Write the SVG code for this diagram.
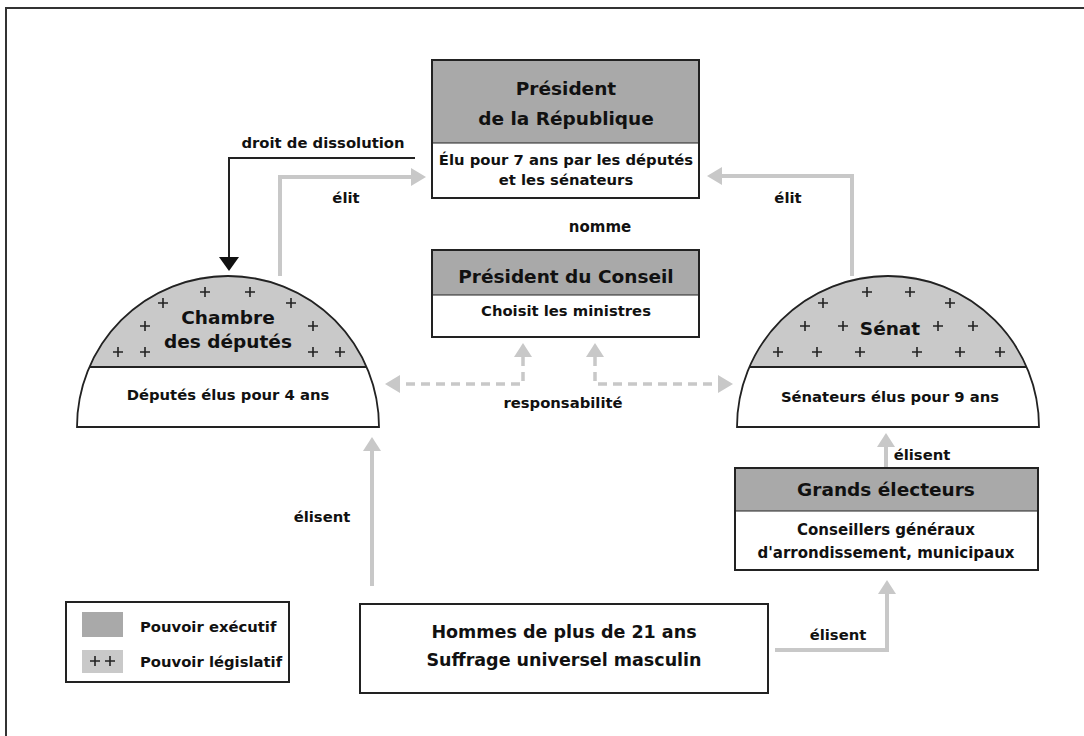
<svg xmlns="http://www.w3.org/2000/svg" width="1084" height="736" viewBox="0 0 1084 736">
<defs>
<style>
text{font-family:"DejaVu Sans","Liberation Sans",Arial,sans-serif;font-weight:bold;fill:#111;text-anchor:middle}
.t19{font-size:18.5px}.t18{font-size:18.5px}.t17{font-size:17.5px}.t15{font-size:15px}.t14{font-size:14.8px}
.box{fill:#fff;stroke:#222;stroke-width:2}
.hdr{fill:#a9a9a9}
.dome{fill:#c9c9c9}
.edge{fill:none;stroke:#222;stroke-width:1.8}
.gl{fill:none;stroke:#c8c8c8;stroke-width:4}
.gd{fill:none;stroke:#c8c8c8;stroke-width:3.5;stroke-dasharray:9 6}
.ga{fill:#c8c8c8}
.bl{fill:none;stroke:#222;stroke-width:2}
.plus{stroke:#222;stroke-width:1.6;fill:none}
</style>
<path id="p" class="plus" d="M-5,0H5M0,-5V5"/>
</defs>
<rect x="6" y="8" width="1100" height="760" fill="#fff" stroke="#333" stroke-width="2"/>

<g id="connectors">
<polyline class="bl" points="415,158 229,158 229,258"/>
<polygon fill="#111" points="219,257 239,257 229,271"/>
<polyline class="gl" points="280,276 280,177 413,177"/>
<polygon class="ga" points="411,168 426,177 411,186"/>
<polyline class="gl" points="852,276 852,176 720,176"/>
<polygon class="ga" points="722,167 707,176 722,185"/>
<polyline class="gd" points="523,357 523,384 399,384"/>
<polygon class="ga" points="514,357 523,343 532,357"/>
<polygon class="ga" points="400,375 385,384 400,393"/>
<polyline class="gd" points="595,357 595,384 719,384"/>
<polygon class="ga" points="586,357 595,343 604,357"/>
<polygon class="ga" points="718,375 733,384 718,393"/>
<polyline class="gl" points="372,586 372,450"/>
<polygon class="ga" points="363,451 372,437 381,451"/>
<polyline class="gl" points="886,468 886,446"/>
<polygon class="ga" points="877,447 886,433 895,447"/>
<polyline class="gl" points="775,650 887,650 887,593"/>
<polygon class="ga" points="878,594 887,580 896,594"/>
<text class="t14" x="323" y="148">droit de dissolution</text>
<text class="t14" x="346" y="203">élit</text>
<text class="t14" x="788" y="203">élit</text>
<text class="t15" x="600" y="232">nomme</text>
<text class="t14" x="563" y="408">responsabilité</text>
<text class="t14" x="322" y="522">élisent</text>
<text class="t14" x="922" y="460">élisent</text>
<text class="t14" x="838" y="640">élisent</text>
</g>

<g id="president">
<rect class="box" x="432" y="60" width="267" height="138"/>
<rect class="hdr" x="433" y="61" width="265" height="82"/>
<line x1="432" y1="143" x2="699" y2="143" stroke="#222" stroke-width="1"/>
<text class="t19" x="566" y="95">Président</text>
<text class="t19" x="566" y="125">de la République</text>
<text class="t14" x="566" y="165">Élu pour 7 ans par les députés</text>
<text class="t14" x="566" y="185">et les sénateurs</text>
</g>

<g id="conseil">
<rect class="box" x="432" y="250" width="267" height="87"/>
<rect class="hdr" x="433" y="251" width="265" height="44"/>
<line x1="432" y1="295" x2="699" y2="295" stroke="#222" stroke-width="1"/>
<text class="t18" x="566" y="283">Président du Conseil</text>
<text class="t14" x="566" y="316">Choisit les ministres</text>
</g>

<g id="chambre">
<path d="M77,427 A151,151 0 0 1 379,427 Z" fill="#fff"/>
<path class="dome" d="M89,367 A151,151 0 0 1 367,367 Z"/>
<path class="edge" d="M77,427 A151,151 0 0 1 379,427 Z"/>
<line x1="89" y1="367" x2="367" y2="367" stroke="#222" stroke-width="1.8"/>
<use href="#p" x="205" y="292"/><use href="#p" x="250" y="292"/>
<use href="#p" x="163" y="303"/><use href="#p" x="291" y="303"/>
<use href="#p" x="145" y="326"/><use href="#p" x="313" y="326"/>
<use href="#p" x="118" y="352"/><use href="#p" x="145" y="352"/>
<use href="#p" x="313" y="352"/><use href="#p" x="340" y="352"/>
<text class="t19" x="228" y="324">Chambre</text>
<text class="t19" x="228" y="348">des députés</text>
<text class="t14" x="228" y="400">Députés élus pour 4 ans</text>
</g>

<g id="senat">
<path d="M737,427 A151,151 0 0 1 1039,427 Z" fill="#fff"/>
<path class="dome" d="M749,367 A151,151 0 0 1 1027,367 Z"/>
<path class="edge" d="M737,427 A151,151 0 0 1 1039,427 Z"/>
<line x1="749" y1="367" x2="1027" y2="367" stroke="#222" stroke-width="1.8"/>
<use href="#p" x="867" y="292"/><use href="#p" x="910" y="292"/>
<use href="#p" x="823" y="303"/><use href="#p" x="950" y="303"/>
<use href="#p" x="805" y="326"/><use href="#p" x="843" y="326"/>
<use href="#p" x="938" y="326"/><use href="#p" x="973" y="326"/>
<use href="#p" x="778" y="352"/><use href="#p" x="817" y="352"/>
<use href="#p" x="860" y="352"/><use href="#p" x="917" y="352"/>
<use href="#p" x="960" y="352"/><use href="#p" x="1000" y="352"/>
<text class="t19" x="890" y="335">Sénat</text>
<text class="t14" x="890" y="402">Sénateurs élus pour 9 ans</text>
</g>

<g id="grands">
<rect class="box" x="735" y="468" width="303" height="102"/>
<rect class="hdr" x="736" y="469" width="301" height="42"/>
<line x1="735" y1="511" x2="1038" y2="511" stroke="#222" stroke-width="1"/>
<text class="t18" x="886" y="496">Grands électeurs</text>
<text class="t15" x="886" y="535">Conseillers généraux</text>
<text class="t15" x="886" y="558">d'arrondissement, municipaux</text>
</g>

<g id="hommes">
<rect class="box" x="360" y="604" width="408" height="89"/>
<text class="t17" x="564" y="638">Hommes de plus de 21 ans</text>
<text class="t17" x="564" y="666">Suffrage universel masculin</text>
</g>

<g id="legend">
<rect class="box" x="66" y="602" width="223" height="80"/>
<rect x="82" y="612" width="41" height="25" fill="#a9a9a9"/>
<rect x="82" y="650" width="41" height="23" fill="#c9c9c9"/>
<use href="#p" x="95" y="661"/><use href="#p" x="110" y="661"/>
<text class="t14" x="140" y="632" style="text-anchor:start">Pouvoir exécutif</text>
<text class="t14" x="140" y="667" style="text-anchor:start">Pouvoir législatif</text>
</g>
</svg>
